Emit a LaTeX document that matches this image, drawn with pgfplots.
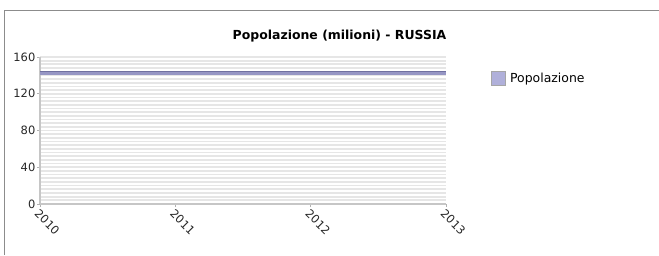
\documentclass[border=0pt]{standalone}
\usepackage{pgfplots}
\pgfplotsset{compat=1.18}
\usepackage{fontspec}
\setmainfont{DejaVu Sans}
\definecolor{bandc}{RGB}{150,150,196}
\definecolor{edgec}{RGB}{112,112,160}
\definecolor{legc}{RGB}{176,176,218}
\definecolor{gridc}{RGB}{230,230,230}
\begin{document}
\begin{tikzpicture}[x=1bp,y=1bp]
\useasboundingbox (0,0) rectangle (659,255);
\draw[gray!90,line width=1bp] (4.5,0) -- (4.5,244.5) -- (659,244.5);
\node[font=\fontsize{12.5}{14}\selectfont\bfseries] at (339.5,219) {Popolazione (milioni) - RUSSIA};
\begin{axis}[
  at={(40bp,51bp)}, anchor=south west,
  scale only axis, width=406bp, height=147bp,
  xmin=2010, xmax=2013, ymin=0, ymax=160,
  xtick={2010,2011,2012,2013},
  ytick={0,40,80,120,160},
  minor ytick={0,4,...,160},
  ymajorgrids, yminorgrids,
  major grid style={gridc, line width=1.7bp},
  minor grid style={gridc, line width=1.7bp},
  minor tick length=0pt,
  major tick length=3bp,
  tick align=outside,
  tick style={gray!60, line width=0.8bp},
  axis lines*=left,
  axis line style={gray!45, line width=1.5bp},
  /pgf/number format/1000 sep={},
  /pgf/number format/assume math mode=true,
  ticklabel style={font=\fontsize{11.5}{13}\selectfont, text=black!85},
  xticklabel style={rotate=-45, anchor=north west, inner sep=1bp},
  yticklabel style={inner sep=1.5bp},
  legend style={draw=none, fill=none, at={(1.111,0.905)}, anchor=north west,
    font=\fontsize{12.5}{14}\selectfont, inner sep=0pt,
    nodes={inner xsep=4bp}},
  legend cell align=left,
  clip=false,
]
\addplot[const plot, draw=bandc, line width=4bp, line cap=butt,
  legend image code/.code={\draw[gray!70, line width=0.8bp, fill=legc] (0bp,-7bp) rectangle (14bp,7bp);}]
  coordinates {(2010,143.0) (2011,142.6) (2012,142.2) (2013,142.2)};
\addlegendentry{Popolazione}
\addplot[const plot, draw=edgec, line width=1bp, line cap=butt, forget plot]
  coordinates {(2010,144.7) (2011,144.3) (2012,143.9) (2013,143.9)};
\end{axis}
\end{tikzpicture}
\end{document}
